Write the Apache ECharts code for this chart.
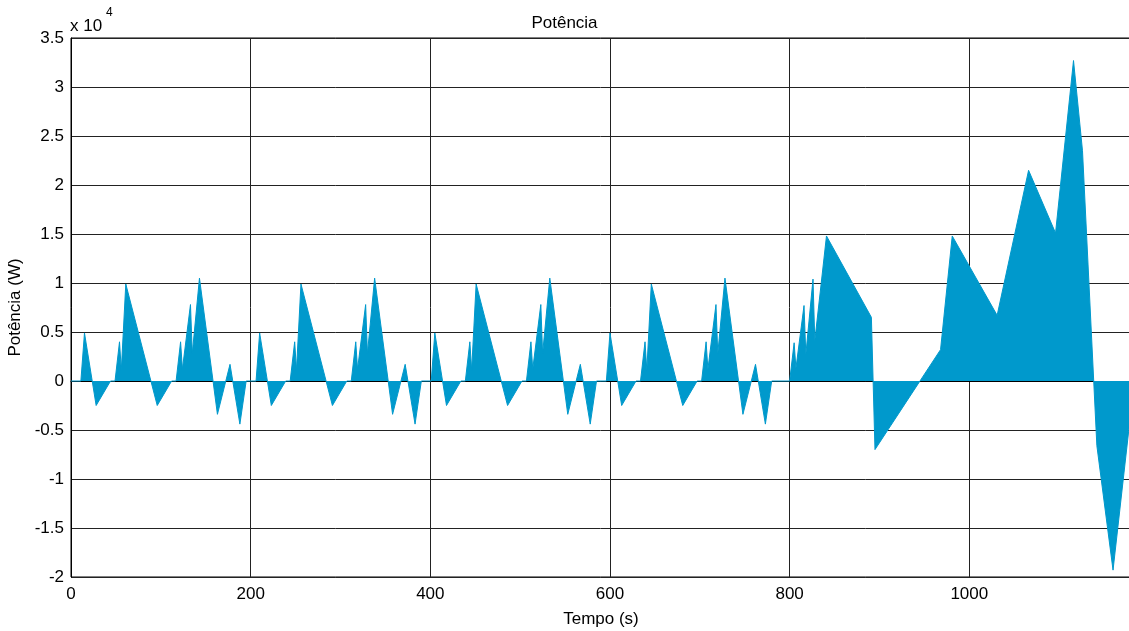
<!DOCTYPE html>
<html>
<head>
<meta charset="utf-8">
<script src="https://cdn.jsdelivr.net/npm/echarts@6/dist/echarts.min.js"></script>
<style>
  html, body { margin: 0; padding: 0; background: #fff; }
  #chart { width: 1129px; height: 631px; }
</style>
</head>
<body>
<div id="chart"></div>
<script>
// tempo (s): 4 ciclos urbanos + ciclo extra-urbano
var tempo = [
  0, 11, 15, 28, 44, 49, 54, 56, 61, 96, 112, 117, 122, 124, 133, 135, 143, 163, 177, 188, 195,
  206, 210, 223, 239, 244, 249, 251, 256, 291, 307, 312, 317, 319, 328, 330, 338, 358, 372, 383, 390,
  401, 405, 418, 434, 439, 444, 446, 451, 486, 502, 507, 512, 514, 523, 525, 533, 553, 567, 578, 585,
  596, 600, 613, 629, 634, 639, 641, 646, 681, 697, 702, 707, 709, 718, 720, 728, 748, 762, 773, 780,
  800, 805, 807, 816, 818, 826, 828, 841, 891, 895, 968, 981, 1031, 1066, 1096, 1116, 1126, 1142, 1160, 1180
]
// potência (x 10^4 W)
var potencia = [
  0, 0, 0.49, -0.25, 0, 0, 0.40, 0.11, 0.99, -0.25, 0, 0, 0.40, 0.12, 0.78, 0.28, 1.05, -0.34, 0.17, -0.44, 0,
  0, 0.49, -0.25, 0, 0, 0.40, 0.11, 0.99, -0.25, 0, 0, 0.40, 0.12, 0.78, 0.28, 1.05, -0.34, 0.17, -0.44, 0,
  0, 0.49, -0.25, 0, 0, 0.40, 0.11, 0.99, -0.25, 0, 0, 0.40, 0.12, 0.78, 0.28, 1.05, -0.34, 0.17, -0.44, 0,
  0, 0.49, -0.25, 0, 0, 0.40, 0.11, 0.99, -0.25, 0, 0, 0.40, 0.12, 0.78, 0.28, 1.05, -0.34, 0.17, -0.44, 0,
  0, 0.39, 0.13, 0.77, 0.27, 1.04, 0.41, 1.48, 0.65, -0.70, 0.32, 1.48, 0.67, 2.15, 1.51, 3.27, 2.35, -0.66, -1.93, -0.30
]
var xMin = 0
var xMax = 1180
var yMin = -2
var yMax = 3.5

var fonte = 'Liberation Sans'
var azul = '#0099cc'

var dados = []
for (var i = 0; i < tempo.length; i++) {
  dados.push([tempo[i], potencia[i]])
}

var chart = echarts.init(document.getElementById('chart'))
var option = {
  animation: false,
  backgroundColor: '#fff',
  title: {
    text: 'Potência',
    left: 'center',
    top: 10,
    textStyle: { fontFamily: fonte, fontSize: 17, fontWeight: 'normal', color: '#000' }
  },
  grid: {
    left: 71,
    width: 1060,
    top: 38,
    bottom: 54,
    outerBoundsMode: 'none',
    containLabel: false,
    show: true,
    borderColor: '#000',
    borderWidth: 1
  },
  graphic: [{
    type: 'text',
    left: 70,
    top: 18,
    style: { text: 'x 10', font: '17px "Liberation Sans"', fill: '#000' }
  }, {
    type: 'text',
    left: 106,
    top: 7,
    style: { text: '4', font: '12px "Liberation Sans"', fill: '#000' }
  }],
  xAxis: {
    type: 'value',
    min: xMin,
    max: xMax,
    interval: 200,
    name: 'Tempo (s)',
    nameLocation: 'middle',
    nameGap: 34,
    nameTextStyle: { fontFamily: fonte, fontSize: 17, color: '#000' },
    axisLine: { show: true, lineStyle: { color: '#000', width: 1 } },
    axisTick: { show: false },
    axisLabel: {
      fontFamily: fonte, fontSize: 17, color: '#000', margin: 9, showMaxLabel: false,
      formatter: function (v) { return String(v) }
    },
    splitLine: { show: true, lineStyle: { color: '#222', width: 1 } }
  },
  yAxis: {
    type: 'value',
    min: yMin,
    max: yMax,
    interval: 0.5,
    name: 'Potência (W)',
    nameLocation: 'middle',
    nameGap: 37,
    nameTextStyle: { fontFamily: fonte, fontSize: 17, color: '#000' },
    axisLine: { show: true, lineStyle: { color: '#000', width: 1 } },
    axisTick: { show: false },
    axisLabel: { fontFamily: fonte, fontSize: 17, color: '#000', margin: 7 },
    splitLine: { show: true, lineStyle: { color: '#222', width: 1 } }
  },
  series: [{
    type: 'line',
    data: dados,
    showSymbol: false,
    lineStyle: { color: azul, width: 1 },
    areaStyle: { color: azul, opacity: 1 },
    z: 3
  }]
}
chart.setOption(option)
</script>
</body>
</html>
